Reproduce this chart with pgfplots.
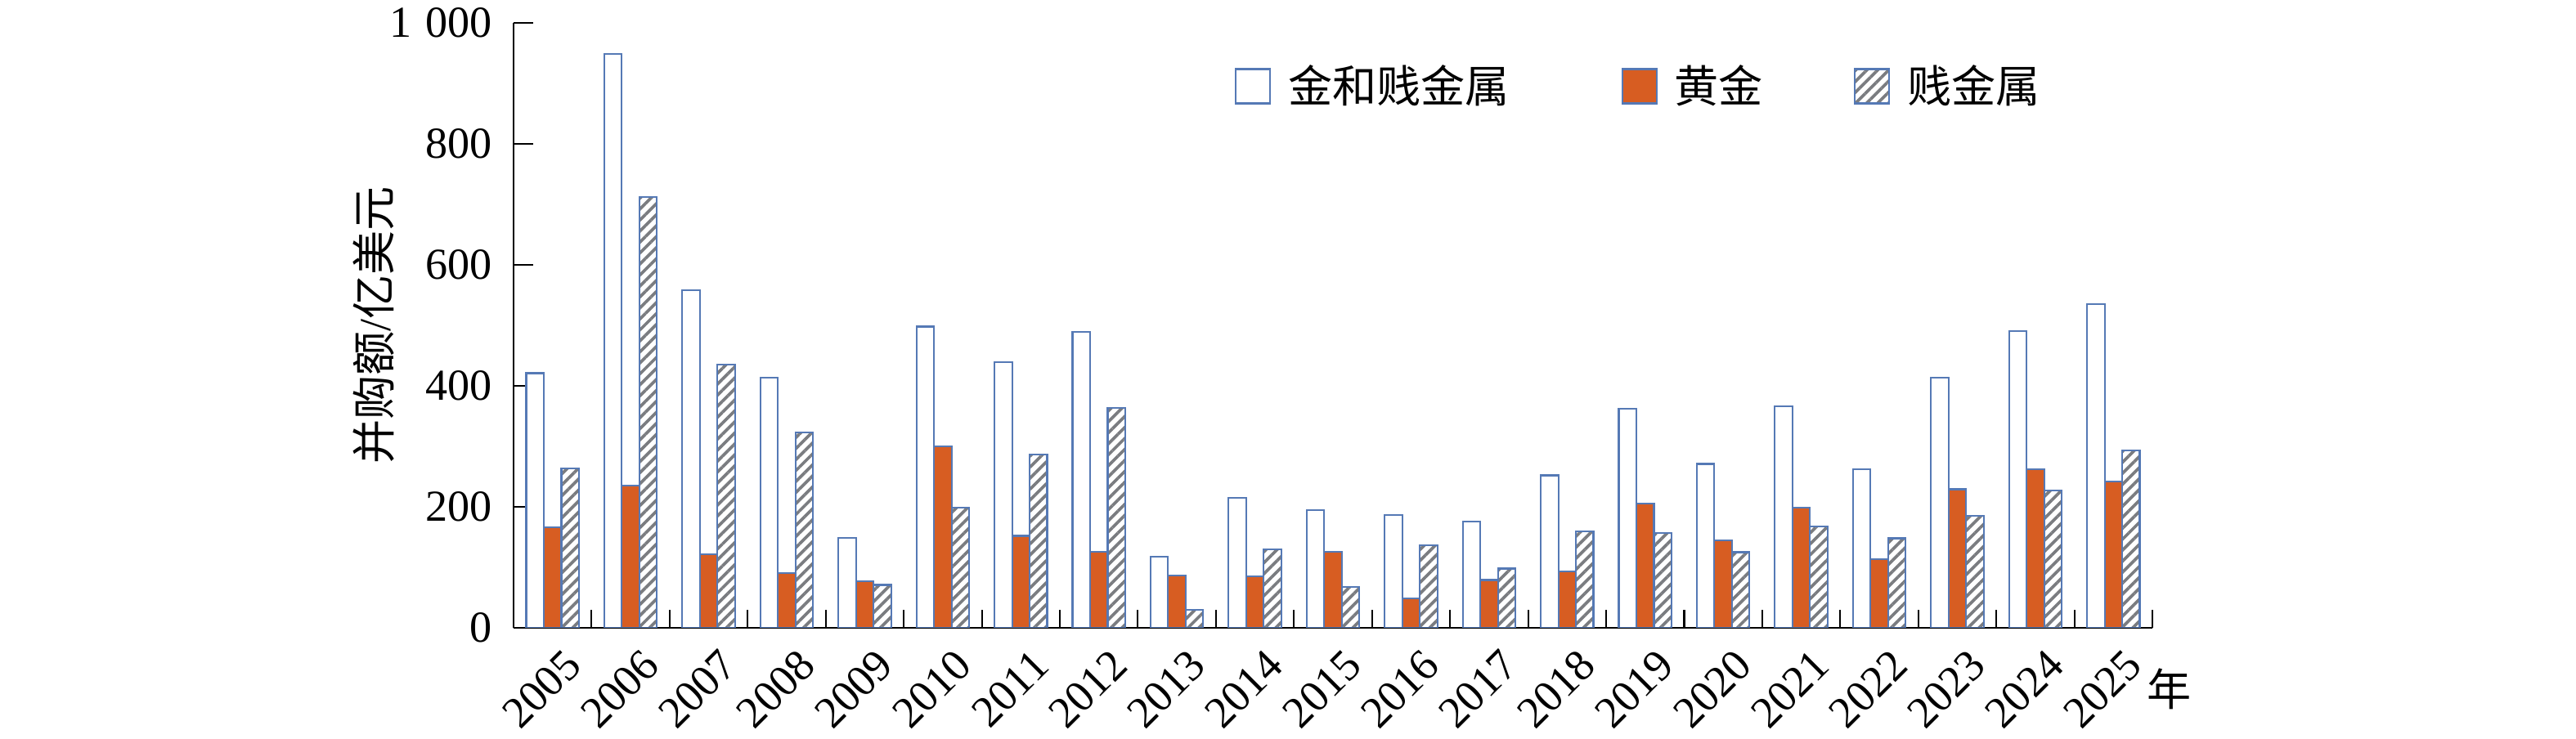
\documentclass[border=0pt]{standalone}
\usepackage{fontspec}
\setmainfont{Liberation Serif}
\newfontfamily\cjk{Noto Sans CJK SC}
\usepackage{pgfplots}
\pgfplotsset{compat=1.18}
\usetikzlibrary{patterns.meta}
\definecolor{bblue}{HTML}{5579B5}
\definecolor{gorange}{HTML}{D75D22}
\definecolor{hgray}{HTML}{7A7C80}
\newcommand{\fs}{\fontsize{15.4pt}{18pt}\selectfont}
\begin{document}
\begin{tikzpicture}
\begin{axis}[
  name=ax,
  scale only axis, width=200.4mm, height=74mm,
  xmin=-0.5, xmax=20.5, ymin=0, ymax=1000,
  axis lines=left,
  axis line style={-, line width=0.6pt, black},
  ybar, bar width=0.225,
  tick align=inside,
  tick style={line width=0.6pt, black},
  xtick={0,...,20},
  xticklabels={2005,2006,2007,2008,2009,2010,2011,2012,2013,2014,2015,2016,2017,2018,2019,2020,2021,2022,2023,2024,2025},
  major x tick style={draw=none},
  minor xtick={-0.5,0.5,...,20.5},
  minor tick length=2.2mm, major tick length=2.4mm,
  ytick={0,200,400,600,800,1000},
  yticklabels={0,200,400,600,800,1\hspace{0.3em}000},
  tick label style={font=\fs},
  yticklabel style={inner sep=0pt, xshift=-2.6mm},
  xticklabel style={xshift=1.2mm, yshift=-2.3mm, rotate=45, anchor=north east, inner sep=0pt},
  xlabel={年},
  ylabel={并购额{\fontspec{Liberation Serif}/}亿美元},
  every axis x label/.style={at={(axis description cs:1.0105,-0.101)}, anchor=center, inner sep=0pt, font=\cjk\fs},
  every axis y label/.style={at={(axis description cs:-0.0853,0.5)}, rotate=90, anchor=center, inner sep=0pt, font=\cjk\fs},
  legend columns=3,
  legend style={at={(axis description cs:0.4401,0.8953)}, anchor=west, draw=none, fill=none,
    inner sep=0pt, outer sep=0pt, font=\cjk\fs,
    nodes={inner sep=0pt, outer sep=0pt},
    /tikz/column 1/.style={column sep=2.1mm},
    /tikz/column 2/.style={column sep=13.7mm},
    /tikz/column 3/.style={column sep=2.1mm},
    /tikz/column 4/.style={column sep=11.1mm},
    /tikz/column 5/.style={column sep=2.1mm}},
  legend image code/.code={\draw[#1] (0mm,-2.1mm) rectangle (4.2mm,2.1mm);},
]
\addplot[fill=white, draw=bblue, line width=0.6pt, bar shift=-0.225] coordinates {
(0,421) (1,949) (2,558) (3,414) (4,149) (5,498) (6,439) (7,489) (8,117) (9,215)
(10,194) (11,187) (12,176) (13,252) (14,362) (15,271) (16,366) (17,262) (18,414) (19,490) (20,535)};
\addlegendentry{金和贱金属}
\addplot[fill=gorange, draw=bblue, line width=0.6pt, bar shift=0] coordinates {
(0,166) (1,235) (2,122) (3,91) (4,77) (5,300) (6,152) (7,126) (8,87) (9,85)
(10,126) (11,49) (12,79) (13,93) (14,205) (15,145) (16,199) (17,114) (18,229) (19,262) (20,242)};
\addlegendentry{黄金}
\addplot[pattern={Lines[angle=45,distance=0.95mm,line width=0.37mm]}, pattern color=hgray, draw=bblue, line width=0.6pt, bar shift=0.225] coordinates {
(0,264) (1,712) (2,435) (3,323) (4,71) (5,199) (6,286) (7,363) (8,30) (9,130)
(10,68) (11,137) (12,98) (13,159) (14,157) (15,125) (16,168) (17,148) (18,185) (19,227) (20,293)};
\addlegendentry{贱金属}
\end{axis}
\path (ax.south west) ++(-62.8mm,-13.6mm) rectangle ++(315mm,90.4mm);
\end{tikzpicture}
\end{document}
